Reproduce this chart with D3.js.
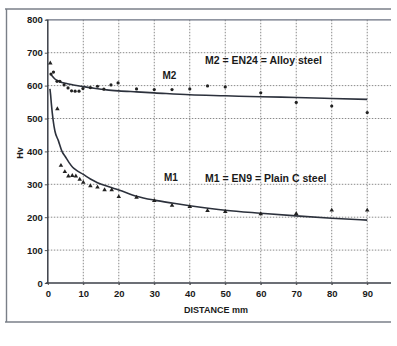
<!DOCTYPE html>
<html><head><meta charset="utf-8">
<script src="https://cdn.jsdelivr.net/npm/d3@7"></script>
<style>
html,body{margin:0;padding:0;background:#fff;}
svg text{font-family:Arial,"Liberation Sans",sans-serif;font-weight:bold;fill:#1a1a1a;}
</style></head>
<body><svg id="c" width="397" height="346"></svg>
<script>
// ---- data ----
const xTicks = [0,10,20,30,40,50,60,70,80,90];
const yTicks = [0,100,200,300,400,500,600,700,800];

// M2 = EN24 measured points (dots)
const m2X = [0.9,1.6,2.6,3.4,4.6,5.7,6.7,7.7,8.8,9.9,12,14,15.8,17.8,19.8,25,30,35,40,45,50,60,70,80,90];
const m2Y = [635,641,613,613,602,593,584,583,583,591,594,598,589,602,608,590,588,588,590,599,596,578,549,538,518];
// M2 fitted curve
const m2CurveX = [1,2,3.4,5,7.2,10,13,16.6,20,25,30,40,50,60,70,80,90];
const m2CurveY = [632,620,612,607,602,597,592,587,584,581,578,572,569,566,564,561,558];

// M1 = EN9 measured points (triangles)
const m1X = [0.7,2.7,3.7,4.8,5.8,6.9,7.9,9,10,12,14,16,18,20,25,30,35,40,45,50,60,70,80,90];
const m1Y = [668,529,357,338,325,326,325,315,306,295,291,283,283,262,260,250,236,232,220,217,210,211,221,221];
// M1 fitted curve
const m1CurveX = [0.6,0.8,1,1.5,2,3,4,5,6,7,8,10,12,14,17,20,25,30,35,40,50,60,70,80,90];
const m1CurveY = [590,571,545,495,462,432,400,383,366,352,343,330,316,305,293,283,264,252,243,235,221,212,204,197,191];

const labels = {
  m2: "M2", m1: "M1",
  m2Desc: "M2 = EN24 = Alloy steel",
  m1Desc: "M1 = EN9 = Plain C steel",
  xTitle: "DISTANCE mm", yTitle: "Hv"
};

// ---- layout ----
const svg = d3.select("#c");
const x = d3.scaleLinear().domain([0,96.7]).range([47.8,391]);
const y = d3.scaleLinear().domain([0,800]).range([283,19.8]);
const [x0,x1] = x.range();
const [y0,y1] = y.range();

// outer frame
const frame = svg.append("g").attr("stroke","#7a7f88").attr("stroke-width",1.4).attr("fill","none");
frame.append("line").attr("x1",6.5).attr("x2",6.5).attr("y1",9).attr("y2",322);
frame.append("line").attr("x1",5).attr("x2",391).attr("y1",9).attr("y2",9);
frame.append("line").attr("x1",5).attr("x2",391).attr("y1",322).attr("y2",322);

// gridlines
const grid = svg.append("g").attr("stroke","#8a8a8a").attr("stroke-width",1).attr("stroke-dasharray","1.5,1.5");
grid.selectAll(".gy").data(yTicks.filter(d=>d>0 && d<800)).join("line")
  .attr("x1",x0).attr("x2",x1).attr("y1",d=>y(d)).attr("y2",d=>y(d));
grid.selectAll(".gx").data(xTicks.filter(d=>d>0)).join("line")
  .attr("x1",d=>x(d)).attr("x2",d=>x(d)).attr("y1",y1).attr("y2",y0+2);

// top line (800)
svg.append("line").attr("x1",x0-2).attr("x2",x1).attr("y1",y(800)).attr("y2",y(800))
  .attr("stroke","#6a7080").attr("stroke-width",1.3);

// axes
const yAxis = d3.axisLeft(y).tickValues(yTicks).tickSize(3).tickPadding(2);
const gy = svg.append("g").attr("transform",`translate(${x0},0)`).call(yAxis);
const xAxis = d3.axisBottom(x).tickValues(xTicks).tickSize(2).tickPadding(5);
const gx = svg.append("g").attr("transform",`translate(0,${y0})`).call(xAxis);
[gx,gy].forEach(g=>{
  g.select(".domain").remove();
  g.selectAll(".tick line").attr("stroke","#555");
  g.selectAll("text").style("font-size","9.5px").attr("fill","#1a1a1a");
});
svg.append("line").attr("x1",x0).attr("x2",x0).attr("y1",y1).attr("y2",y0).attr("stroke","#3b3f48").attr("stroke-width",1.5);
svg.append("line").attr("x1",x0-2).attr("x2",x1).attr("y1",y0).attr("y2",y0).attr("stroke","#3b3f48").attr("stroke-width",1.5);

// curves
const line = d3.line().x(d=>x(d[0])).y(d=>y(d[1])).curve(d3.curveMonotoneX);
svg.append("path").datum(m2CurveX.map((v,i)=>[v,m2CurveY[i]])).attr("d",line)
  .attr("fill","none").attr("stroke","#2c313c").attr("stroke-width",1.6);
svg.append("path").datum(m1CurveX.map((v,i)=>[v,m1CurveY[i]])).attr("d",line)
  .attr("fill","none").attr("stroke","#2c313c").attr("stroke-width",1.6);

// points
svg.append("g").selectAll("circle").data(m2X.map((v,i)=>[v,m2Y[i]])).join("circle")
  .attr("cx",d=>x(d[0])).attr("cy",d=>y(d[1])).attr("r",1.6).attr("fill","#222");
const tri = d3.symbol().type(d3.symbolTriangle).size(9);
svg.append("g").selectAll("path").data(m1X.map((v,i)=>[v,m1Y[i]])).join("path")
  .attr("transform",d=>`translate(${x(d[0])},${y(d[1])})`).attr("d",tri).attr("fill","#222");

// annotations
svg.append("text").attr("x",205).attr("y",64).style("font-size","10.5px").text(labels.m2Desc);
svg.append("text").attr("x",205).attr("y",182).style("font-size","10.5px").text(labels.m1Desc);
svg.append("text").attr("x",162.5).attr("y",78.5).style("font-size","10px").text(labels.m2);
svg.append("text").attr("x",164).attr("y",180.5).style("font-size","10px").text(labels.m1);

// axis titles
svg.append("text").attr("x",216).attr("y",313).attr("text-anchor","middle").style("font-size","9px").text(labels.xTitle);
svg.append("text").attr("transform","translate(23,153) rotate(-90)").attr("text-anchor","middle").style("font-size","9px").text(labels.yTitle);
</script></body></html>
